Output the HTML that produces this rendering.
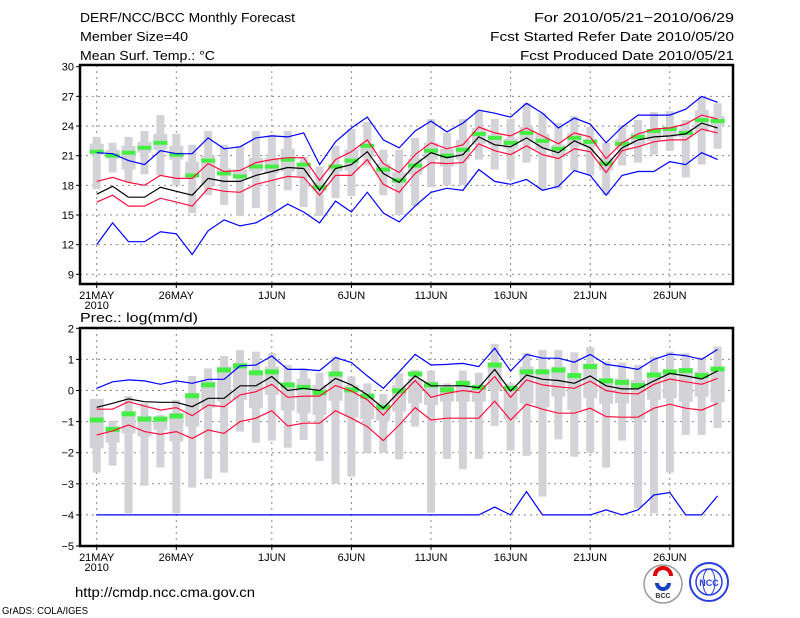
<!DOCTYPE html>
<html><head><meta charset="utf-8"><style>
html,body{margin:0;padding:0;background:#fff;}
svg{display:block;font-family:"Liberation Sans",sans-serif;}
</style></head><body>
<svg id="chart" width="800" height="618" viewBox="0 0 800 618" xmlns="http://www.w3.org/2000/svg">
<rect x="0" y="0" width="800" height="618" fill="#fff"/>
<g font-size="13" fill="#000">
<text x="80" y="22" textLength="215" lengthAdjust="spacingAndGlyphs">DERF/NCC/BCC Monthly Forecast</text>
<text x="80" y="41" textLength="108" lengthAdjust="spacingAndGlyphs">Member Size=40</text>
<text x="80" y="60" textLength="135" lengthAdjust="spacingAndGlyphs">Mean Surf. Temp.: °C</text>
<text x="734" y="22" text-anchor="end" textLength="200" lengthAdjust="spacingAndGlyphs">For 2010/05/21−2010/06/29</text>
<text x="734" y="41" text-anchor="end" textLength="244" lengthAdjust="spacingAndGlyphs">Fcst Started Refer Date 2010/05/20</text>
<text x="734" y="60" text-anchor="end" textLength="214" lengthAdjust="spacingAndGlyphs">Fcst Produced Date 2010/05/21</text>
<text x="80" y="322" textLength="118" lengthAdjust="spacingAndGlyphs">Prec.: log(mm/d)</text>
<text x="75" y="597" font-size="14" textLength="180" lengthAdjust="spacingAndGlyphs">http://cmdp.ncc.cma.gov.cn</text>
<text x="2" y="614" font-size="10" textLength="86" lengthAdjust="spacingAndGlyphs">GrADS: COLA/IGES</text>
</g>
<g id="top"></g>
<g id="bot"></g>
<g>
<circle cx="663" cy="584" r="19" fill="#fff" stroke="#999" stroke-width="1.5"/>
<path d="M655 576 a8 8 0 1 1 16 0" fill="none" stroke="#d00" stroke-width="4"/>
<path d="M657 583 a6 6 0 1 0 12 0" fill="none" stroke="#1540c0" stroke-width="4"/>
<text x="663" y="598" font-size="7" text-anchor="middle" font-weight="bold" fill="#333">BCC</text>
</g>
<g>
<circle cx="709" cy="582" r="19" fill="#fff" stroke="#2a3ee0" stroke-width="2"/>
<circle cx="709" cy="582" r="13" fill="none" stroke="#2a3ee0" stroke-width="1.5"/>
<ellipse cx="709" cy="582" rx="6" ry="13" fill="none" stroke="#2a3ee0" stroke-width="1"/>
<text x="709" y="586" font-size="9" text-anchor="middle" font-weight="bold" fill="#2a3ee0">NCC</text>
</g>
</svg>
<script>
// ---- Temperature data (°C), days 21 May .. 29 Jun ----
const tUpperBlue=[21.3,21.2,20.5,20.1,21.5,21.2,21.2,22.8,21.7,21.9,22.8,23.0,22.9,23.3,20.1,22.4,23.8,24.9,22.6,21.8,23.5,24.5,23.4,24.3,25.6,25.3,24.9,26.3,25.3,23.8,24.8,24.2,22.3,23.9,25.1,25.1,25.1,25.7,27.0,26.4];
const tLowerBlue=[12.0,14.2,12.3,12.3,13.3,13.1,11.0,13.4,14.5,13.9,14.2,15.1,16.1,15.3,14.2,16.4,15.3,17.3,15.2,14.3,15.9,17.3,17.7,17.5,19.6,18.4,18.1,18.6,17.5,17.9,19.5,19.0,17.0,19.0,19.4,19.4,20.4,20.1,21.3,20.6];
const tUpperRed=[18.4,18.8,18.3,18.0,19.0,18.7,18.7,20.2,19.4,19.5,20.3,20.6,20.8,20.8,18.5,20.6,21.4,22.6,20.2,19.3,21.1,22.3,21.7,22.1,23.9,23.3,23.0,23.8,23.0,22.2,23.3,22.9,20.7,22.3,23.2,23.7,23.8,24.2,25.1,24.7];
const tLowerRed=[16.3,17.0,15.9,15.9,16.7,16.3,15.9,17.7,17.4,17.3,18.1,18.5,18.9,18.8,17.0,19.0,19.0,20.6,18.1,17.3,19.2,20.3,20.2,20.3,22.2,21.5,21.1,22.0,21.1,20.7,21.7,21.4,19.3,21.5,21.9,22.4,22.6,22.6,23.7,23.3];
const tMean=[17.1,17.9,16.8,16.8,17.8,17.4,17.0,18.7,18.4,18.4,19.0,19.4,19.8,19.7,17.5,19.7,20.1,21.4,19.2,18.3,20.1,21.3,20.8,21.1,22.9,22.1,21.9,22.8,21.8,21.3,22.5,21.8,20.0,21.8,22.6,22.9,23.0,23.2,24.3,23.8];
const tMedian=[21.4,21.0,21.3,21.8,22.3,21.1,19.0,20.5,19.2,18.9,19.9,19.9,20.6,20.1,17.8,19.9,20.5,22.0,19.6,18.5,20.0,21.5,21.0,21.6,23.2,22.8,22.3,23.3,22.5,21.7,22.8,22.4,20.2,22.2,22.9,23.5,23.7,23.3,24.6,24.5];
const tMax=[22.9,22.3,22.9,23.5,25.1,23.2,22.1,23.5,22.1,22.0,23.5,23.1,23.5,20.9,19.9,22.0,23.7,24.4,21.6,21.6,22.8,24.7,23.3,24.7,25.6,24.7,24.7,26.3,25.3,24.3,25.0,23.9,22.3,24.1,24.6,25.4,25.5,24.6,27.0,26.3];
const tMin=[17.6,19.3,18.3,19.1,19.0,18.0,15.2,17.0,16.0,14.9,15.7,15.3,17.5,15.8,14.9,16.7,16.9,20.0,17.0,15.0,15.9,17.8,18.0,18.0,20.6,19.6,18.6,20.3,17.5,17.6,19.5,19.0,17.0,20.0,20.3,21.1,21.5,18.8,20.1,21.7];
const tQ3=[22.2,21.6,22.0,22.4,23.2,22.0,20.4,21.0,19.7,19.6,20.8,20.8,21.7,20.2,18.3,20.1,21.6,22.2,20.2,19.3,20.7,22.3,21.7,22.6,23.8,23.1,22.7,23.9,23.2,22.1,23.3,22.7,20.8,22.7,23.3,23.7,24.0,23.7,25.6,25.0];
const tQ1=[21.1,20.7,19.6,21.3,21.6,20.6,19.0,18.0,19.0,18.7,19.4,19.2,19.4,18.8,17.4,19.4,19.5,20.9,19.0,18.2,19.1,20.6,19.9,20.6,22.2,22.1,21.7,22.4,21.6,20.8,22.0,21.9,19.5,21.7,22.1,22.5,22.9,22.9,23.4,24.1];
// ---- Precipitation data log(mm/d) ----
const pUpperBlue=[0.07,0.28,0.34,0.31,0.2,0.31,0.23,0.36,0.36,0.79,0.82,1.11,0.68,0.68,0.64,1.06,0.9,0.47,0.07,0.6,1.16,0.82,0.84,0.87,0.77,1.36,0.63,1.16,1.04,1.04,0.91,1.16,0.84,0.77,0.68,1.0,1.17,1.12,1.0,1.32];
const pLowerBlue=[-4,-4,-4,-4,-4,-4,-4,-4,-4,-4,-4,-4,-4,-4,-4,-4,-4,-4,-4,-4,-4,-4,-4,-4,-4,-3.75,-4,-3.25,-4,-4,-4,-4,-3.84,-4,-3.84,-3.36,-3.28,-4,-4,-3.39];
const pUpperRed=[-0.6,-0.6,-0.36,-0.5,-0.63,-0.55,-0.81,-0.47,-0.52,-0.14,-0.04,0.2,-0.22,-0.18,-0.18,0.16,-0.02,-0.3,-0.79,-0.22,0.32,-0.22,-0.09,0,-0.07,0.45,-0.22,0.34,0.18,0.12,0.07,0.3,0,-0.09,-0.11,0.2,0.37,0.28,0.2,0.39];
const pLowerRed=[-1.43,-1.3,-1.11,-1.32,-1.41,-1.32,-1.54,-1.27,-1.38,-1.0,-0.89,-0.65,-1.14,-1.05,-1.05,-0.65,-0.89,-1.16,-1.61,-1.11,-0.55,-0.95,-0.89,-0.89,-0.89,-0.34,-0.95,-0.44,-0.6,-0.73,-0.73,-0.57,-0.84,-0.86,-0.86,-0.57,-0.44,-0.57,-0.63,-0.41];
const pMean=[-0.54,-0.41,-0.27,-0.36,-0.38,-0.38,-0.52,-0.25,-0.25,0.15,0.15,0.45,0,0.07,0,0.39,0.18,-0.14,-0.57,-0.04,0.47,0.15,0.15,0.15,0.09,0.68,-0.02,0.5,0.36,0.32,0.23,0.47,0.15,0.05,0.05,0.31,0.55,0.47,0.37,0.63];
const pMedian=[-0.95,-1.25,-0.75,-0.92,-0.92,-0.82,-0.17,0.18,0.66,0.79,0.57,0.6,0.18,0.1,-0.07,0.53,0.02,-0.18,-0.54,-0.01,0.53,0.18,0.02,0.23,0.1,0.82,0.07,0.6,0.6,0.66,0.48,0.77,0.31,0.26,0.16,0.5,0.6,0.64,0.48,0.69];
const pMax=[-0.27,-0.97,-0.18,-0.41,-0.79,-0.3,0.47,0.71,1.11,1.3,1.25,1.2,0.82,0.71,0.57,1.09,0.45,0.23,-0.11,0.55,0.66,0.64,0.23,0.64,0.57,1.5,0.23,1.2,1.3,1.3,1.23,1.39,0.93,0.9,0.82,1.09,1.25,1.2,1.07,1.41];
const pMin=[-2.64,-2.41,-3.95,-3.06,-2.48,-3.95,-3.12,-2.84,-2.64,-1.32,-1.68,-1.61,-1.84,-1.59,-2.27,-3.0,-2.77,-2.02,-2.0,-2.21,-1.16,-3.93,-2.2,-2.53,-2.2,-1.14,-1.93,-2.1,-3.41,-1.57,-2.13,-2.0,-2.48,-1.61,-3.79,-3.95,-2.64,-1.43,-1.43,-1.2];
const pQ3=[-0.27,-1.16,-0.79,-0.82,-0.84,-0.73,-0.09,0.29,0.77,0.9,0.5,0.77,0.23,0.39,0.18,0.45,0.18,-0.11,-0.39,0.18,0.39,0.29,0.12,0.25,0.18,0.87,0.12,0.77,0.68,0.77,0.5,0.87,0.39,0.39,0.34,0.55,0.66,0.71,0.61,0.77];
const pQ1=[-1.86,-1.68,-1.38,-1.48,-1.27,-1.64,-1.16,-0.57,-0.36,-0.3,-0.57,-0.14,-0.65,-0.73,-0.79,-0.33,-0.86,-0.92,-0.97,-0.68,-0.41,-0.47,-0.36,-0.36,-0.36,0.02,-0.93,-0.41,-0.54,-0.2,-0.63,-0.25,-0.43,-0.41,-0.93,-0.3,-0.25,-0.36,-0.2,-0.38];
// ---- Axis labels ----
const dateLabels=["21MAY","26MAY","1JUN","6JUN","11JUN","16JUN","21JUN","26JUN"];
const dateIdx=[0,5,11,16,21,26,31,36];
const tTicks=[30,27,24,21,18,15,12,9];
const pTicks=[2,1,0,-1,-2,-3,-4,-5];

const NS="http://www.w3.org/2000/svg";
function mk(parent,tag,attrs){const e=document.createElementNS(NS,tag);for(const k in attrs)e.setAttribute(k,attrs[k]);parent.appendChild(e);return e;}
const X=i=>96.7+i*15.92;

function panel(g,pre,Y,frameTop,frameBot,ticks,d,greenH){
  const L=80,R=733;
  // grid
  ticks.forEach(v=>{
    const y=Y(v);
    if(y>frameTop+2&&y<frameBot-2){const gl=mk(g,'line',{x1:L,x2:R,y1:y,y2:y,stroke:'#888','stroke-width':1,'stroke-dasharray':'2,4'});
    
    }
    const tk=mk(g,'line',{x1:L-4,x2:L,y1:y,y2:y,stroke:'#000'});
    
    
    const t=mk(g,'text',{x:L-6,y:y+4,'text-anchor':'end','font-size':11});
    
    
    t.textContent=v<0?'−'+(-v):String(v);
  });
  dateIdx.forEach((di,k)=>{
    const x=X(di);
    const gl=mk(g,'line',{x1:x,x2:x,y1:frameTop,y2:frameBot,stroke:'#888','stroke-width':1,'stroke-dasharray':'2,4'});
    
    
    const tk=mk(g,'line',{x1:x,x2:x,y1:frameBot,y2:frameBot+4,stroke:'#000'});
    
    
    const t=mk(g,'text',{x:x,y:frameBot+15,'text-anchor':'middle','font-size':11});
    
    
    t.textContent=dateLabels[k];
  });
  const yr=mk(g,'text',{x:X(0),y:frameBot+25,'text-anchor':'middle','font-size':11});
  
  
  yr.textContent='2010';
  // boxes
  d.max.forEach((mx,i)=>{
    const x=X(i);
    const b1=mk(g,'rect',{x:x-4,y:Y(mx),width:8,height:Y(d.min[i])-Y(mx),fill:'#d3d3d7'});
    
    
    const b2=mk(g,'rect',{x:x-7,y:Y(d.q3[i]),width:14,height:Math.max(1,Y(d.q1[i])-Y(d.q3[i])),fill:'#d3d3d7'});
    
    
  });
  d.med.forEach((v,i)=>{
    const r=mk(g,'rect',{x:X(i)-7,y:Y(v)-greenH/2,width:14,height:greenH,fill:'#44ee44'});
    
    
  });
  const lines=[[d.ub,'#0000ff','upper-blue-line'],[d.lb,'#0000ff','lower-blue-line'],[d.ur,'#ff1040','upper-red-line'],[d.lr,'#ff1040','lower-red-line'],[d.mean,'#000','ensemble-mean-line']];
  lines.forEach(([arr,c,n])=>{
    const p=mk(g,'polyline',{points:arr.map((v,i)=>X(i).toFixed(1)+','+Y(v).toFixed(1)).join(' '),fill:'none',stroke:c,'stroke-width':1.2});
    
    
  });
  const f=mk(g,'rect',{x:L,y:frameTop,width:R-L,height:frameBot-frameTop,fill:'none',stroke:'#000','stroke-width':2.5});
  
  
}
const YT=v=>66.7+(30-v)*9.886;
const YB=v=>328.3+(2-v)*31.1;
panel(document.getElementById('top'),'temp',YT,65,284,tTicks,{max:tMax,min:tMin,q3:tQ3,q1:tQ1,med:tMedian,ub:tUpperBlue,lb:tLowerBlue,ur:tUpperRed,lr:tLowerRed,mean:tMean},4);
panel(document.getElementById('bot'),'prec',YB,328,546,pTicks,{max:pMax,min:pMin,q3:pQ3,q1:pQ1,med:pMedian,ub:pUpperBlue,lb:pLowerBlue,ur:pUpperRed,lr:pLowerRed,mean:pMean},5);
</script>
</body></html>
